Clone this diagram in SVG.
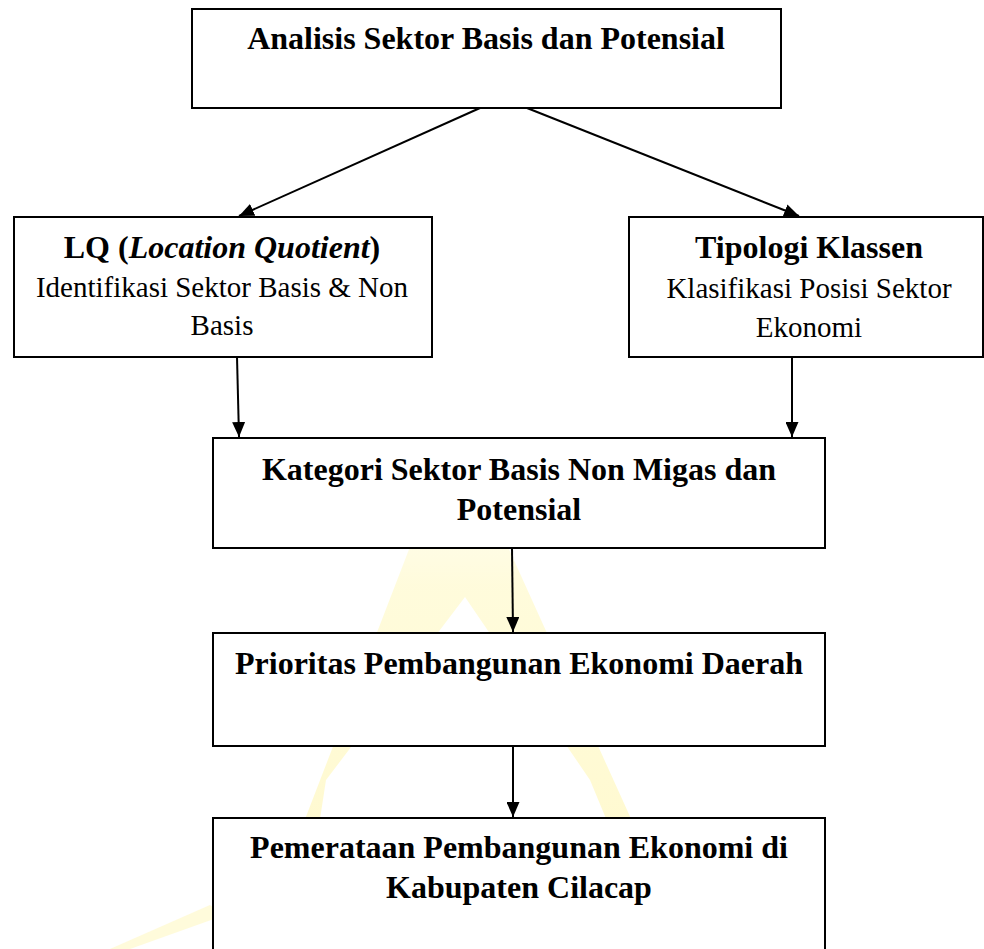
<svg xmlns="http://www.w3.org/2000/svg" width="984" height="949" viewBox="0 0 984 949">
<style>
.box{fill:#fff;stroke:#000;stroke-width:2}
.b{font-family:"Liberation Serif","Times New Roman",serif;font-weight:bold;font-size:32px;fill:#000;text-anchor:middle}
.r{font-family:"Liberation Serif","Times New Roman",serif;font-size:29px;fill:#000;text-anchor:middle}
.edge{stroke:#000;stroke-width:2;fill:none;marker-end:url(#ah)}
.wm{fill:url(#wmg);fill-rule:evenodd}
</style>
<defs>
<marker id="ah" markerUnits="userSpaceOnUse" markerWidth="15" markerHeight="13" viewBox="0 0 15 13" refX="15" refY="6.5" orient="auto">
<path d="M0,0 L15,6.5 L0,13 z" fill="#000"/>
</marker>
<linearGradient id="wmg" x1="0" y1="0" x2="0" y2="1">
<stop offset="0" stop-color="#FFF7B0" stop-opacity="0"/>
<stop offset="0.3" stop-color="#FFF7B0" stop-opacity="0.45"/>
<stop offset="1" stop-color="#FFF3A0" stop-opacity="0.55"/>
</linearGradient>
</defs>
<rect width="984" height="949" fill="#fff"/>
<g id="watermark">
<path class="wm" d="M455,430 L255,949 L690,949 Z M465,597 L326,780 L300,949 L660,949 L590,780 Z"/>
<path d="M110,949 L210,905 L225,915 L130,949 Z" fill="#FFF7B8" opacity="0.5"/>
</g>
<g id="connectors">
<line class="edge" x1="480" y1="108" x2="239" y2="216"/>
<line class="edge" x1="527" y1="108" x2="799" y2="216"/>
<line class="edge" x1="237" y1="357" x2="239" y2="437"/>
<line class="edge" x1="792" y1="357" x2="792" y2="437"/>
<line class="edge" x1="512" y1="548" x2="513" y2="632"/>
<line class="edge" x1="513" y1="746" x2="513" y2="817"/>
</g>
<g id="n_analisis">
<rect class="box" x="192" y="9" width="589" height="99"/>
<text class="b" x="486" y="49">Analisis Sektor Basis dan Potensial</text>
</g>
<g id="n_lq">
<rect class="box" x="14" y="217" width="418" height="140"/>
<text class="b" x="222" y="258">LQ (<tspan font-style="italic">Location Quotient</tspan>)</text>
<text class="r" x="222" y="297">Identifikasi Sektor Basis &amp; Non</text>
<text class="r" x="222" y="335">Basis</text>
</g>
<g id="n_tipologi">
<rect class="box" x="629" y="217" width="354" height="140"/>
<text class="b" x="809" y="258">Tipologi Klassen</text>
<text class="r" x="809" y="298">Klasifikasi Posisi Sektor</text>
<text class="r" x="809" y="337">Ekonomi</text>
</g>
<g id="n_kategori">
<rect class="box" x="213" y="438" width="612" height="110"/>
<text class="b" x="519" y="480">Kategori Sektor Basis Non Migas dan</text>
<text class="b" x="519" y="520">Potensial</text>
</g>
<g id="n_prioritas">
<rect class="box" x="213" y="633" width="612" height="113"/>
<text class="b" x="519" y="674">Prioritas Pembangunan Ekonomi Daerah</text>
</g>
<g id="n_pemerataan">
<rect class="box" x="213" y="818" width="612" height="150"/>
<text class="b" x="519" y="858">Pemerataan Pembangunan Ekonomi di</text>
<text class="b" x="519" y="898">Kabupaten Cilacap</text>
</g>
</svg>
